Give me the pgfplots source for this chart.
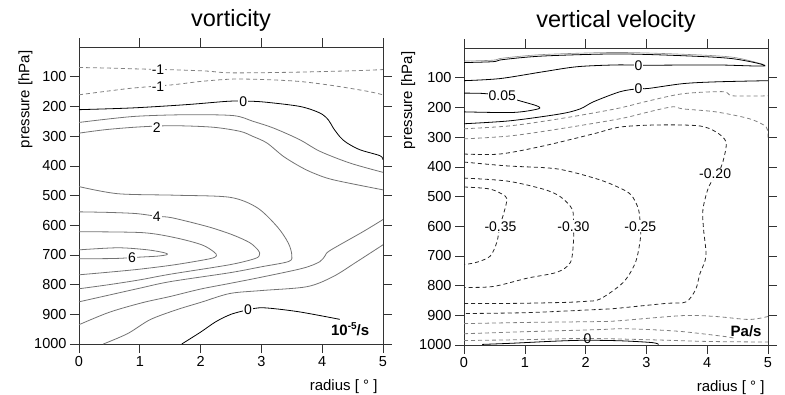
\documentclass[border=0pt]{standalone}
\usepackage{fontspec}
\setmainfont{Liberation Sans}
\usepackage{pgfplots}
\pgfplotsset{compat=1.18}
\begin{document}
\begin{tikzpicture}
\useasboundingbox (0pt,0pt) rectangle (785pt,394pt);
\tikzset{
  cposline/.style={black!55},
  czeroline/.style={black},
  cneglight/.style={black!50, dash pattern=on 4pt off 3pt},
  cnegdark/.style={black!85, dash pattern=on 4pt off 3pt},
  clab/.style={fill=white, inner sep=1pt, font=\fontsize{14}{16}\selectfont},
  unitlab/.style={inner sep=1pt, font=\bfseries\fontsize{15}{17}\selectfont},
}
\pgfplotsset{
  panel/.style={
    scale only axis, width=304pt, height=297pt,
    xmin=0, xmax=5, ymin=0, ymax=1000, y dir=reverse,
    xtick={0,1,2,3,4,5}, ytick={100,200,300,400,500,600,700,800,900,1000},
    tick align=outside, major tick length=9pt,
    tick style={black!80, line width=0.6pt},
    axis line style={black!80, line width=0.7pt},
    /pgf/number format/assume math mode=true,
    /pgf/number format/1000 sep={},
    ticklabel style={font=\fontsize{14.5}{16}\selectfont},
    label style={font=\fontsize{15}{18}\selectfont},
    title style={at={(axis description cs:0.5,1)}, anchor=base, yshift=15pt, font=\fontsize{23.5}{26}\selectfont},
    xlabel style={at={(axis description cs:1,0)}, anchor=base east, yshift=-46pt, xshift=-2pt},
    every axis plot/.append style={smooth, tension=0.5, line width=0.8pt},
    clip=true,
  },
}
% ---------------- vorticity ----------------
\begin{axis}[panel, at={(79pt,50pt)}, anchor=south west, title={vorticity},
  xlabel={radius [ ° ]}, ylabel={pressure [hPa]},
  ylabel style={at={(axis description cs:-0.163,1)}, anchor=base east}]
\addplot[cneglight] coordinates {(0,69) (0.5,71) (1.0,74) (1.6,77) (2.1,81) (2.5,87) (3.5,85) (4.5,80) (5,76)};
\addplot[cneglight] coordinates {(0,161) (0.45,149) (0.9,138) (1.55,127) (2.0,116) (2.53,108) (3.09,110) (3.63,116) (4.18,130) (4.74,149) (5,161)};
\addplot[czeroline] coordinates {(0,211) (0.89,205) (1.77,194) (2.43,183) (2.7,182) (3.03,185) (3.63,200) (3.96,222) (4.1,245) (4.18,272) (4.29,302) (4.4,322) (4.62,346) (4.95,366) (5,380)};
\addplot[cposline] coordinates {(0,254) (0.89,234) (1.77,228) (2.54,231) (2.86,250) (3.2,273) (3.63,312) (3.96,351) (4.46,391) (5,422)};
\addplot[cposline] coordinates {(0,290) (0.45,278) (1.0,269) (1.55,265) (2.2,270) (2.65,284) (2.86,301) (3.09,323) (3.36,368) (3.63,402) (3.85,424) (4.18,447) (5,481)};
\addplot[cposline] coordinates {(0,470) (0.64,494) (1.58,499) (2.48,506) (2.93,541) (3.26,605) (3.44,659) (3.5,700) (3.45,722) (3.0,740) (2.48,760) (1.5,790) (1.0,812) (0.5,835) (0,858)};
\addplot[cposline] coordinates {(0,555) (0.5,557) (0.95,561) (1.28,570) (1.53,575) (2.12,605) (2.52,632) (2.81,659) (2.95,685) (2.97,699) (2.9,712) (2.48,733) (1.5,765) (1.0,784) (0.5,800) (0,814)};
\addplot[cposline] coordinates {(0,622) (1.04,625) (1.58,642) (2.02,666) (2.22,690) (2.26,703) (2.15,713) (1.58,733) (1.0,748) (0.5,758) (0,767)};
\addplot[cposline] coordinates {(0,683) (0.64,676) (1.13,683) (1.41,693) (1.45,699) (1.3,704) (1.04,707) (0.6,712) (0,713)};
\addplot[cposline] coordinates {(0,935) (0.5,893) (1.04,861) (1.5,840) (2.0,815) (2.48,796) (3.0,775) (3.68,745) (3.96,723) (4.05,702) (4.13,685) (4.67,622) (5,581)};
\addplot[cposline] coordinates {(0.4,1000) (0.8,965) (1.17,918) (1.6,885) (2.0,860) (2.48,830) (3.0,820) (3.75,807) (4.18,773) (4.57,723) (5,666)};
\addplot[czeroline] coordinates {(1.69,1000) (2.0,960) (2.25,925) (2.5,900) (2.78,885) (3.03,878) (3.6,891) (4.29,917)};
\node[clab] at (axis cs:1.3,76) {-1};
\node[clab] at (axis cs:1.3,132) {-1};
\node[clab] at (axis cs:2.7,183) {0};
\node[clab] at (axis cs:1.28,270) {2};
\node[clab] at (axis cs:1.28,570) {4};
\node[clab] at (axis cs:0.87,711) {6};
\node[clab] at (axis cs:2.78,886) {0};
\node[unitlab] at (axis cs:4.46,950) {10\raisebox{0.45em}{\fontsize{10}{12}\selectfont -5}/s};
\end{axis}
% ---------------- vertical velocity ----------------
\begin{axis}[panel, at={(464pt,49pt)}, anchor=south west, title={vertical velocity},
  xlabel={radius [ ° ]}, ylabel={pressure [hPa]},
  xlabel style={xshift=2pt},
  ylabel style={at={(axis description cs:-0.171,1)}, anchor=base east}]
\addplot[black!45, line width=0.6pt] coordinates {(0,44) (0.48,41) (0.64,34) (1.3,22) (2.5,15) (3.6,21) (4.42,31) (4.92,55)};
\addplot[czeroline] coordinates {(0,49) (0.48,46) (0.64,39) (1.3,27) (2.5,20) (3.6,26) (4.42,36) (4.95,60) (4.14,57) (3.0,58) (2.5,57) (1.86,63) (1.3,80) (0.59,103) (0,110)};
\addplot[czeroline] coordinates {(0,255) (0.76,245) (1.58,222) (1.91,205) (2.13,181) (2.57,147) (2.87,137) (3.04,136) (3.6,120) (4.14,114) (5,110)};
\addplot[czeroline] coordinates {(0,152) (0.31,153) (0.63,161) (0.92,178) (1.2,195) (1.22,205) (0.81,217) (0,215)};
\addplot[cneglight] coordinates {(0,272) (0.76,262) (1.58,238) (2.49,205) (3.04,178) (3.6,154) (4.26,147) (4.42,161) (5,161)};
\addplot[cneglight] coordinates {(0,306) (0.76,296) (1.58,272) (2.57,238) (3.04,215) (3.43,198) (3.6,205) (4.14,215) (4.69,238) (4.97,266) (5,306)};
\addplot[cnegdark] coordinates {(0,357) (0.59,357) (1.3,330) (2.13,289) (2.57,266) (3.2,259) (3.86,262) (4.14,282) (4.31,316) (4.27,374) (4.19,418) (4.03,465) (3.93,543) (3.94,610) (3.98,701) (3.88,760) (3.81,813) (3.65,855) (3.32,860) (2.49,877) (2.24,880) (1.04,891) (0,894)};
\addplot[cnegdark] coordinates {(0,384) (0.71,397) (1.53,407) (2.19,441) (2.55,470) (2.75,495) (2.87,543) (2.9,600) (2.9,644) (2.82,722) (2.62,789) (2.24,845) (2.0,853) (1.58,857) (0.76,860) (0,860)};
\addplot[cnegdark] coordinates {(0,438) (0.71,448) (1.3,475) (1.58,500) (1.78,543) (1.8,600) (1.8,654) (1.75,722) (1.53,755) (1.04,775) (0.48,803) (0,806)};
\addplot[cnegdark] coordinates {(0,468) (0.43,475) (0.68,499) (0.7,519) (0.64,566) (0.59,600) (0.54,654) (0.43,701) (0.2,722) (0,729)};
\addplot[cneglight] coordinates {(0,928) (1.04,924) (2.24,921) (2.57,918) (3.6,901) (4.14,904) (4.69,914) (5,904)};
\addplot[cneglight] coordinates {(0,962) (1.04,955) (2.24,948) (2.57,945) (3.04,948) (3.6,955) (4.31,972) (4.45,978)};
\addplot[cneglight] coordinates {(0,985) (1.0,982) (2.0,978) (3.0,982) (4.0,988) (5,990)};
\addplot[czeroline] coordinates {(0.3,998) (0.8,994) (1.5,987) (2.0,984) (2.6,986) (3.1,992) (3.2,998)};
\node[clab] at (axis cs:2.87,59) {0};
\node[clab] at (axis cs:2.87,137) {0};
\node[clab] at (axis cs:0.63,161) {0.05};
\node[clab] at (axis cs:4.13,424) {-0.20};
\node[clab] at (axis cs:2.9,600) {-0.25};
\node[clab] at (axis cs:1.8,600) {-0.30};
\node[clab] at (axis cs:0.6,600) {-0.35};
\node[clab, fill=none] at (axis cs:2.03,978) {0};
\node[unitlab] at (axis cs:4.64,953) {Pa/s};
\end{axis}
\end{tikzpicture}
\end{document}
